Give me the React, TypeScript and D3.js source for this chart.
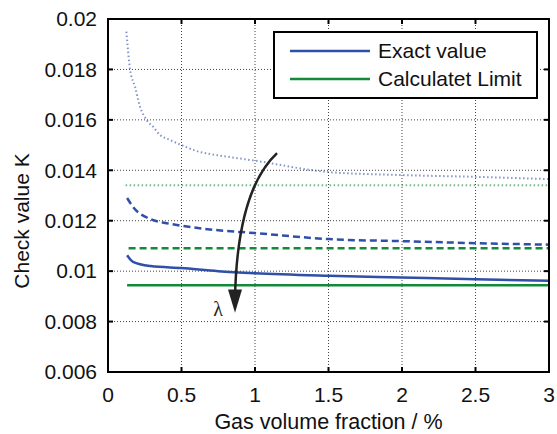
import React from "react";
import * as d3 from "d3";

const xTicks = [0, 0.5, 1, 1.5, 2, 2.5, 3];
const yTicks = [0.006, 0.008, 0.01, 0.012, 0.014, 0.016, 0.018, 0.02];
const yTickLabels = ["0.006", "0.008", "0.01", "0.012", "0.014", "0.016", "0.018", "0.02"];

// Exact value curves
const exactSolidX = [0.13, 0.17, 0.29, 0.5, 0.75, 1, 1.5, 2, 2.5, 3];
const exactSolidY = [0.01063, 0.01037, 0.0102, 0.01012, 0.01, 0.00992, 0.00982, 0.00975, 0.00968, 0.00962];
const exactDashX = [0.13, 0.17, 0.29, 0.4, 0.5, 0.75, 1, 1.5, 2, 2.5, 3];
const exactDashY = [0.0129, 0.01255, 0.01206, 0.0119, 0.0118, 0.01162, 0.01151, 0.01127, 0.01119, 0.01111, 0.01105];
const exactDotX = [0.125, 0.15, 0.184, 0.218, 0.263, 0.306, 0.354, 0.422, 0.5, 0.6, 0.74, 0.81, 1, 1.5, 2, 2.5, 3];
const exactDotY = [0.0195, 0.018, 0.01731, 0.01652, 0.01599, 0.01573, 0.0154, 0.0152, 0.015, 0.01477, 0.0146, 0.01454, 0.01438, 0.01393, 0.01381, 0.01374, 0.01365];

// Calculated limits
const limitSolid = { x0: 0.13, x1: 3, y: 0.00944 };
const limitDash = { x0: 0.14, x1: 3, y: 0.01091 };
const limitDot = { x0: 0.12, x1: 3, y: 0.01341 };

// arrow (data coords): start, control, shaft end, tip
const arrowStart = [1.15, 0.01468];
const arrowCtrl = [0.88, 0.01321];
const arrowEnd = [0.864, 0.00895];
const arrowTip = [0.864, 0.00835];

const legendItems = ["Exact value", "Calculatet Limit"];

const BLUE = "#2f4fa8";
const GREEN = "#138a3a";
const FONT = "'Liberation Sans', Arial, sans-serif";

export default function App() {
  const W = 557, H = 434;
  const L = 108, R = 549, T = 19, B = 372;
  const x = d3.scaleLinear().domain([0, 3]).range([L, R]);
  const y = d3.scaleLinear().domain([0.006, 0.02]).range([B, T]);
  const line = d3.line<[number, number]>().x(d => x(d[0])).y(d => y(d[1])).curve(d3.curveMonotoneX);
  const zip = (xs: number[], ys: number[]) => xs.map((v, i) => [v, ys[i]] as [number, number]);

  const p = d3.path();
  p.moveTo(x(arrowStart[0]), y(arrowStart[1]));
  p.quadraticCurveTo(x(arrowCtrl[0]), y(arrowCtrl[1]), x(arrowEnd[0]), y(arrowEnd[1]));
  const tipX = x(arrowTip[0]), tipY = y(arrowTip[1]);
  const baseY = y(arrowEnd[1]) - 8;

  return (
    <svg width={W} height={H} style={{ position: "absolute", left: 0, top: 0, background: "#fff" }}>
      <rect x={0} y={0} width={W} height={H} fill="#fff" />
      {/* grid */}
      {xTicks.slice(1, -1).map(t => (
        <line key={"gx" + t} x1={x(t)} x2={x(t)} y1={T} y2={B} stroke="#444" strokeWidth={1} strokeDasharray="1,2" />
      ))}
      {yTicks.slice(1, -1).map(t => (
        <line key={"gy" + t} x1={L} x2={R} y1={y(t)} y2={y(t)} stroke="#444" strokeWidth={1} strokeDasharray="1,2" />
      ))}
      {/* limits */}
      <line x1={x(limitDot.x0)} x2={x(limitDot.x1)} y1={y(limitDot.y)} y2={y(limitDot.y)} stroke={GREEN} strokeOpacity={0.6} strokeWidth={2} strokeDasharray="1.5,2.5" />
      <line x1={x(limitDash.x0)} x2={x(limitDash.x1)} y1={y(limitDash.y)} y2={y(limitDash.y)} stroke={GREEN} strokeWidth={2.5} strokeDasharray="7,4" />
      <line x1={x(limitSolid.x0)} x2={x(limitSolid.x1)} y1={y(limitSolid.y)} y2={y(limitSolid.y)} stroke={GREEN} strokeWidth={2.5} />
      {/* exact */}
      <path d={line(zip(exactDotX, exactDotY)) || ""} fill="none" stroke={BLUE} strokeOpacity={0.6} strokeWidth={2} strokeDasharray="1.5,2.5" />
      <path d={line(zip(exactDashX, exactDashY)) || ""} fill="none" stroke={BLUE} strokeWidth={2.5} strokeDasharray="7,4" />
      <path d={line(zip(exactSolidX, exactSolidY)) || ""} fill="none" stroke={BLUE} strokeWidth={2.5} />
      {/* arrow */}
      <path d={p.toString()} fill="none" stroke="#222" strokeWidth={2.5} />
      <polygon points={`${tipX},${tipY} ${tipX - 7},${baseY} ${tipX + 7},${baseY}`} fill="#222" />
      <text x={218} y={316} fontFamily="'Liberation Serif', 'Times New Roman', serif" fontSize={20} textAnchor="middle" fill="#222">λ</text>
      {/* frame */}
      <rect x={L} y={T} width={R - L} height={B - T} fill="none" stroke="#000" strokeWidth={2} />
      {xTicks.map(t => (
        <g key={"tx" + t}>
          <line x1={x(t)} x2={x(t)} y1={B} y2={B - 5} stroke="#000" strokeWidth={2} />
          <line x1={x(t)} x2={x(t)} y1={T} y2={T + 5} stroke="#000" strokeWidth={2} />
          <text x={x(t)} y={402} textAnchor="middle" fontFamily={FONT} fontSize={21} fill="#111">{String(t)}</text>
        </g>
      ))}
      {yTicks.map((t, i) => (
        <g key={"ty" + t}>
          <line x1={L} x2={L + 5} y1={y(t)} y2={y(t)} stroke="#000" strokeWidth={2} />
          <line x1={R} x2={R - 5} y1={y(t)} y2={y(t)} stroke="#000" strokeWidth={2} />
          <text x={97} y={y(t)} dy="0.35em" textAnchor="end" fontFamily={FONT} fontSize={21} fill="#111">{yTickLabels[i]}</text>
        </g>
      ))}
      <text x={(L + R) / 2} y={429} textAnchor="middle" fontFamily={FONT} fontSize={21.5} fill="#111">Gas volume fraction / %</text>
      <text transform={`translate(29,221) rotate(-90)`} textAnchor="middle" fontFamily={FONT} fontSize={21} fill="#111">Check value K</text>
      {/* legend */}
      <rect x={274} y={32} width={263} height={66} fill="#fff" stroke="#000" strokeWidth={2} />
      {legendItems.map((name, i) => (
        <g key={name}>
          <line x1={290} x2={370} y1={51 + i * 28} y2={51 + i * 28} stroke={i === 0 ? BLUE : GREEN} strokeWidth={2.5} />
          <text x={378} y={51 + i * 28} dy="0.35em" fontFamily={FONT} fontSize={21} fill="#111">{name}</text>
        </g>
      ))}
    </svg>
  );
}
